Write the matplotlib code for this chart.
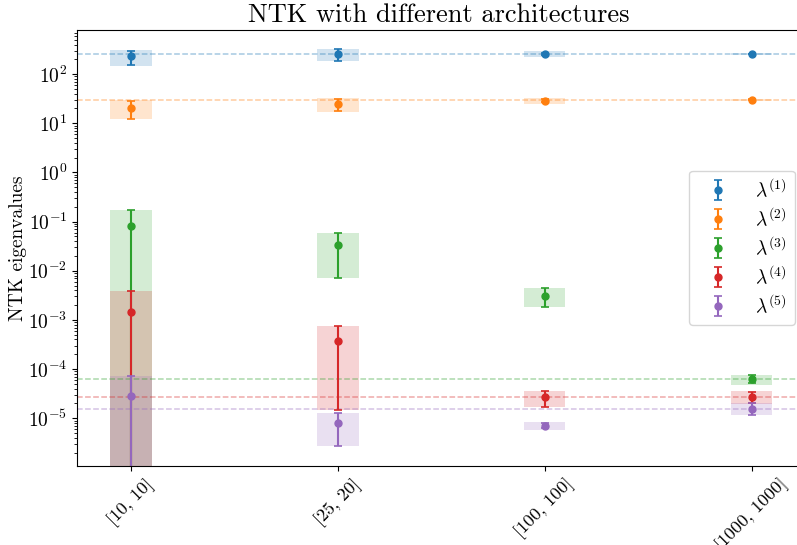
import matplotlib
matplotlib.use('Agg')
import matplotlib.pyplot as plt
import numpy as np

plt.rcParams['font.family'] = 'serif'
plt.rcParams['font.serif'] = ['cmr10']
plt.rcParams['mathtext.fontset'] = 'cm'
plt.rcParams['axes.formatter.use_mathtext'] = True

categories = ['[10, 10]', '[25, 20]', '[100, 100]', '[1000, 1000]']
series_labels = [r'$\lambda^{(1)}$', r'$\lambda^{(2)}$', r'$\lambda^{(3)}$',
                 r'$\lambda^{(4)}$', r'$\lambda^{(5)}$']

mean_vals = [
    [234, 253, 257, 257],
    [20.8, 24.8, 28.9, 30.0],
    [0.083, 0.0327, 3.1e-3, 6.3e-5],
    [1.47e-3, 3.78e-4, 2.66e-5, 2.66e-5],
    [2.79e-5, 7.9e-6, 7.08e-6, 1.57e-5],
]
err_low = [
    [154, 188, 247, 254],
    [12.3, 17.9, 27.0, 29.3],
    [1e-7, 7.2e-3, 1.85e-3, 5.1e-5],
    [1e-7, 1.5e-5, 1.7e-5, 2.0e-5],
    [1e-7, 2.69e-6, 6.3e-6, 1.18e-5],
]
err_high = [
    [300, 321, 267, 260],
    [28.9, 31.3, 30.8, 30.7],
    [0.174, 0.059, 4.45e-3, 7.6e-5],
    [3.8e-3, 7.5e-4, 3.59e-5, 3.5e-5],
    [7.1e-5, 1.29e-5, 7.9e-6, 2.04e-5],
]
box_low = [
    [149, 183, 227, 245],
    [12.1, 17.3, 24.8, 28.5],
    [1e-7, 7.2e-3, 1.83e-3, 4.8e-5],
    [1e-7, 1.5e-5, 1.68e-5, 1.98e-5],
    [1e-7, 2.7e-6, 5.86e-6, 1.18e-5],
]
box_high = [
    [310, 325, 292, 270],
    [30.3, 32.8, 33.2, 31.5],
    [0.174, 0.059, 4.5e-3, 7.7e-5],
    [3.8e-3, 7.6e-4, 3.6e-5, 3.52e-5],
    [7.1e-5, 1.3e-5, 8.4e-6, 2.04e-5],
]
ref_vals = [257, 30, 6.3e-5, 2.66e-5, 1.57e-5]

colors = ['C0', 'C1', 'C2', 'C3', 'C4']

fig = plt.figure(figsize=(7.97, 5.45), dpi=100)
ax = fig.add_axes([0.0966, 0.145, 0.908, 0.80])
ax.set_yscale('log')

x = np.arange(len(categories))
for k in range(5):
    bl = np.array(box_low[k]); bh = np.array(box_high[k])
    ax.bar(x, bh - bl, bottom=bl, width=0.2, color=colors[k], alpha=0.2, linewidth=0)
for k in range(5):
    ax.axhline(ref_vals[k], color=colors[k], alpha=0.4, linestyle='--', linewidth=1.1)
for k in range(5):
    m = np.array(mean_vals[k]); lo = np.array(err_low[k]); hi = np.array(err_high[k])
    ax.errorbar(x, m, yerr=[m - lo, hi - m], fmt='o', color=colors[k], capsize=3,
                markersize=5, elinewidth=1.5, capthick=1.2, label=series_labels[k])

ax.set_xlim(-0.261, 3.237)
ax.set_ylim(1.07e-6, 790)
ax.set_xticks(x)
ax.set_xticklabels(categories, rotation=45, ha='center', fontsize=13)
ax.tick_params(axis='y', labelsize=14)
ax.set_ylabel('NTK eigenvalues', fontsize=14, labelpad=1)
ax.set_title('NTK with different architectures', fontsize=19)
ax.legend(loc='center right', bbox_to_anchor=(0.9975, 0.545), bbox_transform=fig.transFigure,
          borderaxespad=0, fontsize=14, labelspacing=0.3, handleheight=1.0, handlelength=2.2)

fig.savefig('out.png', dpi=100)
